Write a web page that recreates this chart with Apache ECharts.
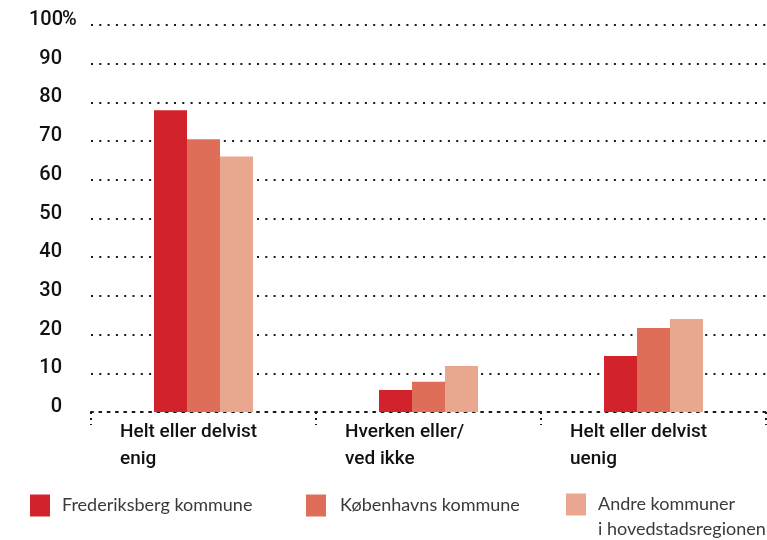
<!DOCTYPE html>
<html>
<head>
<meta charset="utf-8">
<script src="https://cdn.jsdelivr.net/npm/echarts@6/dist/echarts.min.js"></script>
<style>
  html, body { margin: 0; padding: 0; background: #fff; }
  #main { width: 767px; height: 540px; }
</style>
</head>
<body>
<div id="main"></div>
<script>
// data
var categories = ['Helt eller delvist\nenig', 'Hverken eller/\nved ikke', 'Helt eller delvist\nuenig'];
var frederiksberg = [78, 5.7, 14.5];
var koebenhavn = [70.5, 7.8, 21.7];
var andre = [66, 11.9, 24];
var seriesNames = ['Frederiksberg kommune', 'Københavns kommune', 'Andre kommuner\ni hovedstadsregionen'];
var colors = ['#d2232d', '#df6e58', '#eaa790'];

var dotted = { color: '#1a1a1a', width: 2, type: [2, 6.3] };

// legend text is centred on the icon, so a blank first line keeps
// the two-line label hanging down from the icon like the original
function legendAt(left, top, name, textLeft) {
    var multi = name.indexOf('\n') >= 0;
    return {
        data: [name],
        left: left,
        top: top,
        padding: 0,
        itemWidth: 20,
        itemHeight: 22,
        icon: 'rect',
        selectedMode: false,
        formatter: function (n) { return multi ? '\n' + n : n; },
        textStyle: {
            fontFamily: 'Lato',
            fontSize: 18,
            color: '#3a3a3a',
            lineHeight: 25,
            padding: [0, 0, 0, textLeft]
        }
    };
}

var chart = echarts.init(document.getElementById('main'));

chart.setOption({
    animation: false,
    grid: { left: 91, right: 1, top: 25, bottom: 128 },
    legend: [
        legendAt(30, 493, seriesNames[0], 7),
        legendAt(306, 493, seriesNames[1], 9),
        legendAt(566, 467, seriesNames[2], 7)
    ],
    xAxis: {
        type: 'category',
        data: categories,
        axisLine: { show: true, lineStyle: dotted },
        axisTick: { show: true, length: 13, lineStyle: { color: '#1a1a1a', width: 2, type: [2, 4] } },
        axisLabel: {
            margin: 7,
            formatter: function (v) {
                return v.split('\n').map(function (s) { return '{a|' + s + '}'; }).join('\n');
            },
            rich: {
                a: {
                    width: 167,
                    align: 'left',
                    fontFamily: 'Roboto',
                    fontWeight: 500,
                    fontSize: 19,
                    lineHeight: 27,
                    color: '#111'
                }
            }
        }
    },
    yAxis: {
        type: 'value',
        min: 0,
        max: 100,
        interval: 10,
        axisLine: { show: false },
        axisTick: { show: false },
        splitLine: { show: true, lineStyle: dotted },
        axisLabel: {
            align: 'left',
            margin: 61,
            padding: [0, 0, 10, 0],
            fontFamily: 'Roboto',
            fontWeight: 500,
            fontSize: 20,
            color: '#111',
            formatter: function (v) {
                return v === 100 ? '{n|100}%' : '{n|' + v + '}';
            },
            rich: {
                n: { width: 32, align: 'right', fontFamily: 'Roboto', fontWeight: 500, fontSize: 20, color: '#111' }
            }
        }
    },
    series: [
        { name: seriesNames[0], type: 'bar', data: frederiksberg, barWidth: 33, barGap: 0, itemStyle: { color: colors[0] } },
        { name: seriesNames[1], type: 'bar', data: koebenhavn, barWidth: 33, barGap: 0, itemStyle: { color: colors[1] } },
        { name: seriesNames[2], type: 'bar', data: andre, barWidth: 33, barGap: 0, itemStyle: { color: colors[2] } }
    ]
});
</script>
</body>
</html>
